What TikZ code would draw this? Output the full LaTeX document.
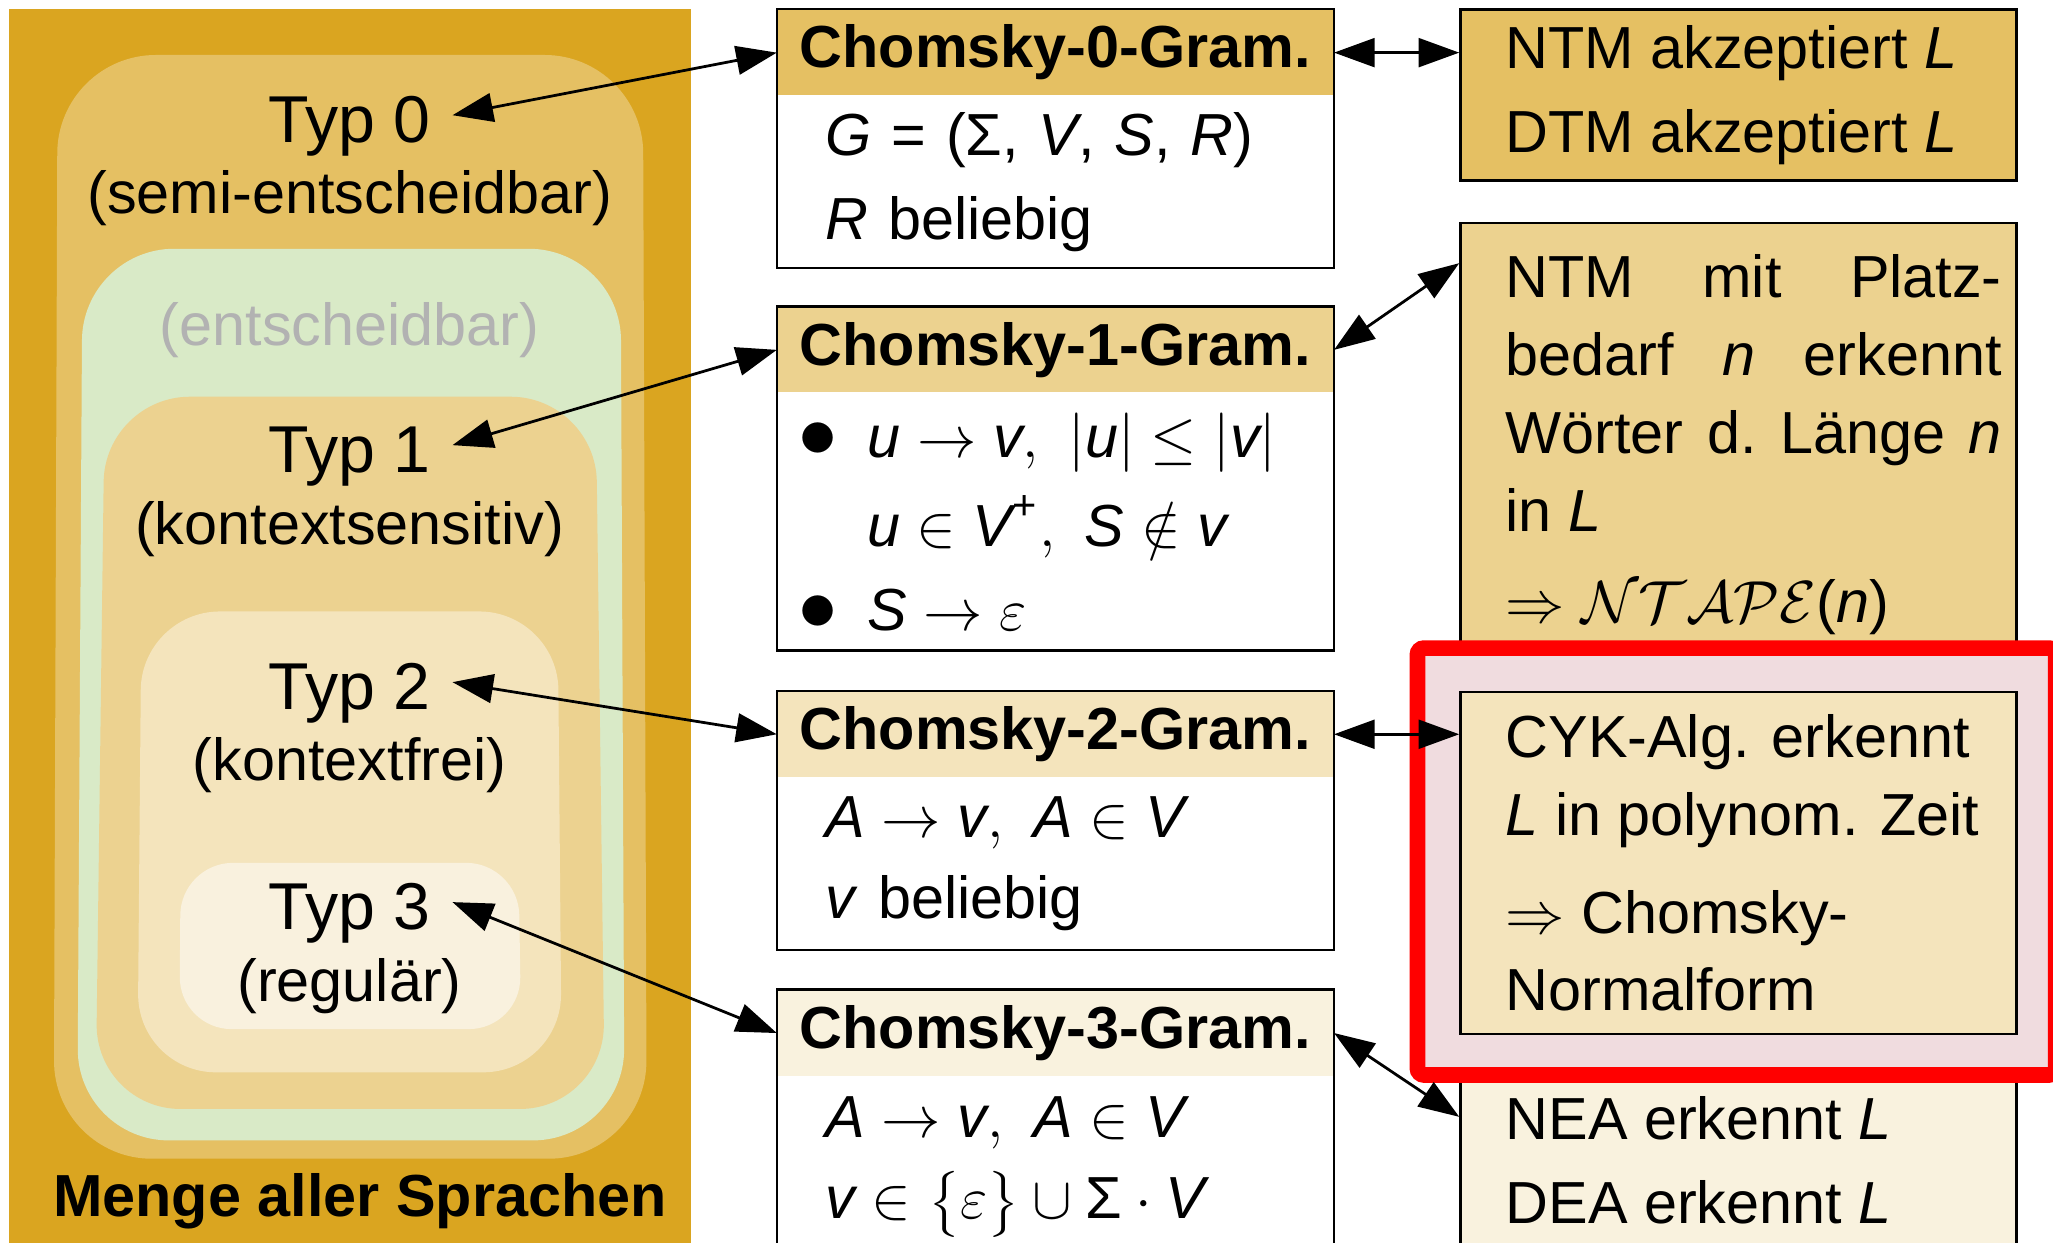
\RequirePackage{fix-cm}
\documentclass[tikz,border=0pt]{standalone}
\usepackage{amsmath}
\usepackage{fontspec}
\setmainfont{Liberation Sans}
\usepackage{tikz}
\usetikzlibrary{arrows.meta}
\usetikzlibrary{positioning}
\definecolor{gold}{RGB}{218,165,32}
\definecolor{decgreen}{RGB}{217,234,199}
\definecolor{hlpink}{RGB}{240,220,223}
\newcommand{\mvar}[1]{\textit{#1}}
\newcommand{\bigdot}{{\fontsize{17}{17}\selectfont$\bullet$}}

\begin{document}
\begin{tikzpicture}[x=0.1mm,y=-0.1mm,>={Triangle[length=3.1mm,width=2.2mm]},
    typ/.style={anchor=base,inner sep=0pt,inner xsep=1.6mm,text height=4.2mm,text depth=0pt,font=\fontsize{14.4}{17}\selectfont},
    typsub/.style={anchor=base,inner sep=0pt,font=\fontsize{12.9}{15}\selectfont},
    gramhead/.style={anchor=north west,minimum width=42.42mm,minimum height=6.5mm,inner sep=0pt,font=\fontsize{12.9}{15}\selectfont\bfseries},
    grambody/.style={minimum width=42.42mm,inner xsep=3.67mm,inner ysep=0pt,text width=35.08mm,align=left,font=\fontsize{12.9}{16.9}\selectfont},
    gramframe/.style={draw,line width=0.5pt},
    rbox/.style={draw,line width=0.5pt,anchor=north west,minimum width=42.48mm,inner xsep=1.13mm,inner ysep=0pt,text width=40.22mm,align=justify,font=\fontsize{12.9}{16.9}\selectfont},
    conn/.style={<->,line width=0.6pt}]
    \useasboundingbox (0,0) rectangle (1568,949);
    \fill[white] (0,0) rectangle (1568,949);

    \fill[gold] (7,7) rectangle (528,960);
    \fill[gold!70,rounded corners=7.5mm] (44,42) -- (491,42) -- (494,885) -- (41,885) -- cycle;
    \fill[decgreen,rounded corners=7mm] (63,190) -- (474,190) -- (477,871) -- (59,871) -- cycle;
    \fill[gold!50,rounded corners=6.5mm] (80,303) -- (455,303) -- (462,847) -- (73,847) -- cycle;
    \fill[gold!30,rounded corners=6mm] (108,467) -- (426,467) -- (429,819) -- (105,819) -- cycle;
    \fill[gold!15,rounded corners=4mm] (138,659) -- (396,659) -- (398,786) -- (137,786) -- cycle;

    \node[typ]                  (typ0)    at (267,109) {Typ 0};
    \node[typsub]               (typ0sub) at (267,163) {(semi-entscheidbar)};
    \node[typsub,text=black!30] (entsch)  at (267,264) {(entscheidbar)};
    \node[typ]                  (typ1)    at (267,361) {Typ 1};
    \node[typsub]               (typ1sub) at (267,416) {(kontextsensitiv)};
    \node[typ]                  (typ2)    at (267,542) {Typ 2};
    \node[typsub]               (typ2sub) at (267,596) {(kontextfrei)};
    \node[typ]                  (typ3)    at (267,710) {Typ 3};
    \node[typsub]               (typ3sub) at (267,765) {(regulär)};
    \node[typsub,font=\fontsize{12.9}{15}\selectfont\bfseries] (menge) at (275,929) {Menge aller Sprachen};

    \node[gramhead,fill=gold!70] (g0head) at (593.3,7) {Chomsky-0-Gram.};
    \node[grambody,below=0pt of g0head,minimum height=13mm] (g0body)
        {\mvar{G} = (Σ, \mvar{V}, \mvar{S}, \mvar{R})\\[0.5mm]\mvar{R} beliebig};
    \draw[gramframe] (g0head.north west) rectangle (g0body.south east);

    \node[gramhead,fill=gold!50] (g1head) at (593.3,234) {Chomsky-1-Gram.};
    \node[grambody,below=0pt of g1head,minimum height=19.5mm] (g1body)
        {\hspace*{-2.1mm}\makebox[5.3mm][l]{\bigdot}$\mvar{u} \to \mvar{v},\ |\mvar{u}| \le |\mvar{v}|$\\[0.85mm]
         \hspace*{3.18mm}$\mvar{u} \in \mvar{V}^{\text{+}},\ \mvar{S} \notin \mvar{v}$\\[0.5mm]
         \hspace*{-2.1mm}\makebox[5.3mm][l]{\bigdot}$\mvar{S} \to \varepsilon$};
    \draw[gramframe] (g1head.north west) rectangle (g1body.south east);

    \node[gramhead,fill=gold!30] (g2head) at (593.3,527.6) {Chomsky-2-Gram.};
    \node[grambody,below=0pt of g2head,minimum height=13mm] (g2body)
        {$\mvar{A} \to \mvar{v},\ \mvar{A} \in \mvar{V}$\\[0.25mm]\mvar{v} beliebig};
    \draw[gramframe] (g2head.north west) rectangle (g2body.south east);

    \node[gramhead,fill=gold!15] (g3head) at (593.3,755.8) {Chomsky-3-Gram.};
    \node[grambody,below=0pt of g3head,minimum height=13.9mm] (g3body)
        {$\mvar{A} \to \mvar{v},\ \mvar{A} \in \mvar{V}$\\[0.25mm]$\mvar{v} \in \bigl\{\varepsilon\bigr\} \cup \text{Σ} \cdot \mvar{V}$};
    \draw[gramframe] (g3head.north west) rectangle (g3body.south east);

    \node[rbox,fill=gold!70,minimum height=13.06mm] (r0) at (1114.5,6.4)
        {\leftskip=2.32mm NTM akzeptiert \mvar{L}\\[0.5mm] DTM akzeptiert \mvar{L}\par};
    \node[rbox,fill=gold!50,minimum height=33.85mm] (r1) at (1114.5,169.5)
        {\leftskip=2.32mm NTM mit Platz-\linebreak bedarf \mvar{n} erkennt\linebreak Wörter d.~Länge \mvar{n}\linebreak in \mvar{L}\\[1mm]
         $\Rightarrow \mathcal{NTAPE}$(\mvar{n})\par};
    \node[rbox,fill=gold!15,minimum height=25.9mm] (r3) at (1114.5,756)
        {\leftskip=2.32mm NEA erkennt \mvar{L}\\[0.5mm] DEA erkennt \mvar{L}\par};
    \draw[red,line width=1.2mm,fill=hlpink,rounded corners=0.5mm] (1082.6,495) rectangle (1570,821);
    \node[rbox,fill=gold!30,minimum height=26.09mm] (r2) at (1114.5,527.7)
        {\leftskip=2.32mm CYK-Alg. erkennt\\ \mvar{L} in polynom. Zeit\\[1.55mm] $\Rightarrow$ Chomsky-\\ Normalform\par};

    \draw[conn] (typ0.east) -- (g0head.west);
    \draw[conn] (typ1.east) -- (g1head.west);
    \draw[conn] (typ2.east) -- (g2head.west);
    \draw[conn] (typ3.east) -- (g3head.west);
    \draw[conn] (g0head.east) -- (g0head.east -| r0.west);
    \draw[conn] (g1head.east) -- ([yshift=-3.15mm]r1.north west);
    \draw[conn] (g2head.east) -- (g2head.east -| r2.west);
    \draw[conn] (g3head.east) -- ([yshift=-9.7mm]r3.north west);
\end{tikzpicture}
\end{document}
